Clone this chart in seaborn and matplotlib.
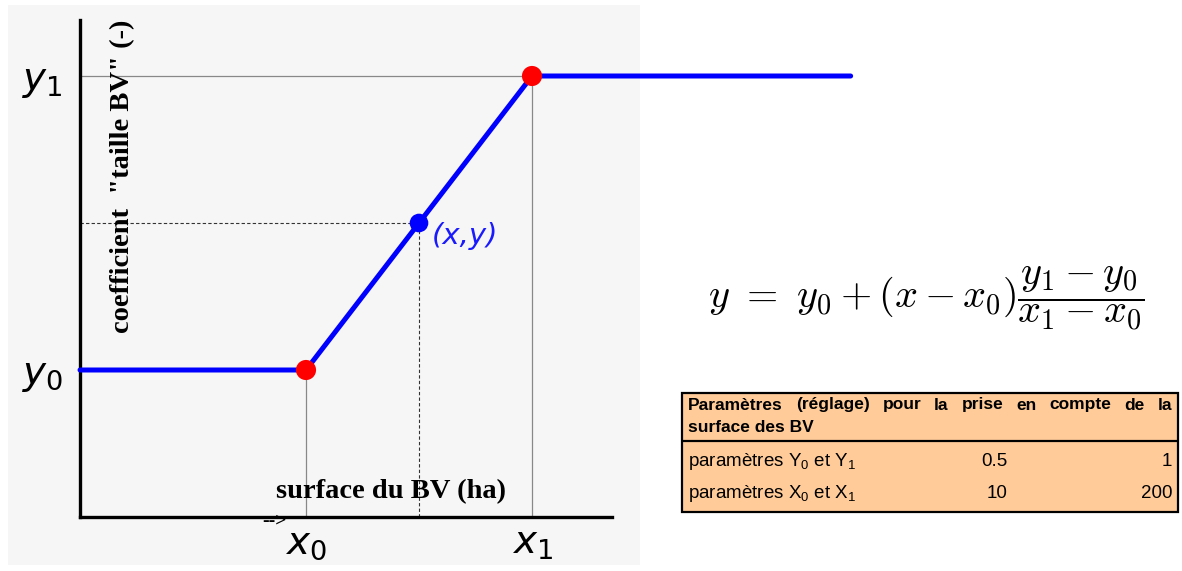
import numpy as np
import pandas as pd
import seaborn as sns
import matplotlib.pyplot as plt
from matplotlib.patches import Rectangle

# schema de l'interpolation (unites relatives : x0=1, x1=2, y0=1, y1=3)
curve_x = [0, 1, 2, 3.41]
curve_y = [1, 1, 3, 3]
knots_x = [1, 2]
knots_y = [1, 3]
pt_x = [1.5]
pt_y = [2]

tick_x = [1, 2]
tick_x_labels = [r"$x_0$", r"$x_1$"]
tick_y = [1, 3]
tick_y_labels = [r"$y_0$", r"$y_1$"]

formula = r"$y\ =\ y_0 + (x - x_0)\dfrac{y_1 - y_0}{x_1 - x_0}$"

# tableau des parametres
table_line1 = "Paramètres (réglage) pour la prise en compte de la"
table_line2 = "surface des BV"
row_labels = [r"paramètres $\mathregular{Y_0}$ et $\mathregular{Y_1}$",
              r"paramètres $\mathregular{X_0}$ et $\mathregular{X_1}$"]
col_min = [0.5, 10]
col_max = [1, 200]

W, H = 1182, 571
sns.set_theme(style="white")
plt.rcParams["font.family"] = ["DejaVu Sans"]
plt.rcParams["text.color"] = "black"
plt.rcParams["xtick.color"] = "black"
plt.rcParams["ytick.color"] = "black"

fig = plt.figure(figsize=(W / 100, H / 100), dpi=100)
fig.patches.append(Rectangle((8 / W, 6 / H), 632 / W, 560 / H, transform=fig.transFigure,
                             facecolor="#f6f6f6", edgecolor="none", zorder=-5))

ax = fig.add_axes([80 / W, 54 / H, 532 / W, 497 / H])
ax.patch.set_alpha(0)
ax.set_xlim(0, 532 / 226)
ax.set_ylim(0, 497 / 147)
for s in ["top", "right"]:
    ax.spines[s].set_visible(False)
for s in ["left", "bottom"]:
    ax.spines[s].set_color("black")
    ax.spines[s].set_linewidth(2.4)

# lignes de rappel
ax.plot([knots_x[0]] * 2, [0, knots_y[0]], color="#888888", lw=0.9)
ax.plot([knots_x[1]] * 2, [0, knots_y[1]], color="#888888", lw=0.9)
ax.plot([0, knots_x[1]], [knots_y[1]] * 2, color="#888888", lw=0.9)
ax.plot([0, pt_x[0]], [pt_y[0]] * 2, color="#333333", lw=0.8, dashes=(3, 2))
ax.plot([pt_x[0]] * 2, [0, pt_y[0]], color="#333333", lw=0.8, dashes=(3, 2))

sns.lineplot(x=curve_x, y=curve_y, color="#0000ff", lw=3.6, ax=ax, clip_on=False, zorder=3)
sns.scatterplot(x=knots_x, y=knots_y, color="#ff0000", s=210, edgecolor="none", ax=ax,
                clip_on=False, zorder=5)
sns.scatterplot(x=pt_x, y=pt_y, color="#0000ff", s=180, edgecolor="none", ax=ax, zorder=5)
ax.annotate("(x,y)", (pt_x[0], pt_y[0]), xytext=(9, -9), textcoords="offset points",
            ha="left", va="center", color="#1a1aff", fontsize=21, style="italic")

ax.set_xticks(tick_x, tick_x_labels, fontsize=28)
ax.set_yticks(tick_y, tick_y_labels, fontsize=28)
ax.tick_params(axis="both", length=0)
ax.tick_params(axis="x", pad=5)
ax.tick_params(axis="y", pad=12)

fig.text(123 / W, 1 - 20 / H, 'coefficient  "taille BV" (-)', rotation=90, ha="center", va="top",
         family="Liberation Serif", weight="bold", fontsize=20.5)
fig.text(391 / W, 1 - 492 / H, "surface du BV (ha)", ha="center", va="center",
         family="Liberation Serif", weight="bold", fontsize=20.5)
fig.text(287 / W, 1 - 521 / H, "-->", ha="right", va="center",
         family="Liberation Serif", weight="bold", fontsize=14)

fig.text(926 / W, 1 - 299 / H, formula, ha="center", va="center", fontsize=29,
         math_fontfamily="cm")

# tableau
tax = fig.add_axes([682 / W, 59 / H, 496 / W, 119 / H])
tax.set_xlim(0, 496)
tax.set_ylim(119, 0)
tax.axis("off")
tax.add_patch(Rectangle((0, 0), 496, 119, facecolor="#ffcc99", edgecolor="black", lw=1.6,
                        clip_on=False))
tax.plot([0, 496], [48, 48], color="black", lw=1.6)

font = dict(family="Liberation Sans", fontsize=12.5, color="black", va="center")
words = table_line1.split()
txts = [tax.text(0, 12, w, weight="bold", ha="left", **font) for w in words]
tax.text(6, 35, table_line2, weight="bold", ha="left", **font)
fig.canvas.draw()
r = fig.canvas.get_renderer()
widths = [t.get_window_extent(r).width for t in txts]
gap = (484 - sum(widths)) / (len(words) - 1)
xpos = 6
for t, w in zip(txts, widths):
    t.set_x(xpos)
    xpos += w + gap

row_font = dict(font, fontsize=13.5)
for i, (lab, vmin, vmax) in enumerate(zip(row_labels, col_min, col_max)):
    yy = 69 + i * 31
    tax.text(6, yy, lab, ha="left", **row_font)
    tax.text(325, yy, f"{vmin:g}", ha="right", **row_font)
    tax.text(490, yy, f"{vmax:g}", ha="right", **row_font)

fig.savefig("out.png", dpi=100)
